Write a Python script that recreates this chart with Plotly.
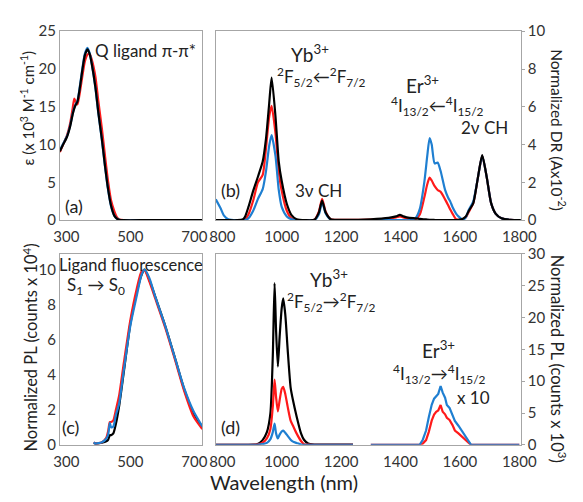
import plotly.graph_objects as go

W, H = 583, 502
FONT = "Lato"
BLACK, RED, BLUE = "#000000", "#ff1a1a", "#1f7fd1"

# ---------------- (a) absorption ----------------
wl_a = [280, 290, 302, 312, 320, 325, 330, 335, 342, 350, 358, 366, 373, 380,
        391, 400, 411, 421, 431, 440, 450, 458, 465, 480, 550, 650, 725]
abs_black = [9.1, 10.0, 11.0, 12.4, 14.0, 14.8, 15.3, 15.7, 17.4, 19.8, 21.8, 22.6,
             22.0, 20.6, 17.6, 14.3, 10.8, 7.2, 4.0, 1.9, 0.6, 0.2, 0.05, 0, 0, 0, 0]
abs_red = [9.0, 10.0, 11.2, 12.8, 14.8, 16.1, 15.6, 15.3, 16.8, 19.0, 21.0, 21.9,
           22.0, 21.2, 19.0, 15.8, 12.2, 8.5, 5.0, 2.6, 1.2, 0.4, 0.1, 0, 0, 0, 0]
abs_blue = [9.2, 10.1, 11.1, 12.5, 14.1, 14.9, 15.4, 15.8, 17.6, 20.0, 22.0, 22.8,
            22.1, 20.6, 17.5, 14.2, 10.7, 7.1, 3.9, 1.8, 0.6, 0.2, 0.05, 0, 0, 0, 0]

# ---------------- (b) diffuse reflectance ----------------
wl_b = [778, 795, 805, 820, 850, 870, 877, 888, 904, 920, 936, 947, 958, 966, 979,
        990, 1000, 1017, 1033, 1050, 1080, 1110, 1125, 1136, 1148, 1165, 1200, 1300,
        1360, 1385, 1398, 1410, 1430, 1450, 1465, 1480, 1490, 1498, 1505, 1515, 1525,
        1535, 1550, 1560, 1568, 1575, 1587, 1595, 1610, 1620, 1630, 1645, 1660, 1675,
        1690, 1705, 1720, 1740, 1770, 1805]
dr_black = [0, 0, 0, 0, 0, 0.05, 0.2, 0.7, 1.55, 2.3, 3.1, 4.3, 6.2, 7.55, 5.5,
            3.1, 2.07, 0.87, 0.27, 0.05, 0, 0.02, 0.4, 1.04, 0.4, 0.05, 0.02, 0.05,
            0.12, 0.2, 0.28, 0.2, 0.12, 0.1, 0.07, 0.05, 0.03, 0.02, 0.02, 0.01, 0,
            0, 0, 0, 0, 0, 0, 0.02, 0.08, 0.2, 0.5, 0.9, 2.2, 3.45, 2.3, 0.9, 0.35,
            0.1, 0.02, 0]
dr_red = [0, 0, 0, 0, 0, 0, 0.05, 0.3, 1.04, 2.0, 2.4, 3.8, 5.5, 6.05, 4.6,
          2.6, 1.55, 0.5, 0.1, 0.02, 0, 0.02, 0.45, 1.13, 0.45, 0.05, 0.02, 0.03,
          0.08, 0.15, 0.2, 0.15, 0.05, 0.05, 0.3, 1.2, 1.9, 2.25, 2.1, 1.8, 1.6,
          1.5, 1.1, 0.8, 0.55, 0.35, 0.05, 0.02, 0.05, 0.15, 0.45, 0.9, 2.2, 3.4,
          2.3, 0.9, 0.35, 0.1, 0.02, 0]
dr_blue = [1.1, 0.6, 0.25, 0.05, 0, 0, 0, 0.1, 0.5, 1.13, 1.64, 2.58, 3.95, 4.5,
           3.4, 1.6, 0.7, 0.2, 0.05, 0, 0, 0, 0.3, 0.95, 0.35, 0.03, 0, 0, 0, 0, 0,
           0, 0, 0.1, 0.6, 2.0, 3.4, 4.35, 4.0, 3.0, 3.05, 2.6, 1.6, 1.2, 0.97, 0.7,
           0.35, 0.2, 0.02, 0.15, 0.55, 1.0, 2.2, 3.4, 2.3, 0.9, 0.35, 0.1, 0.02, 0]

# ---------------- (c) ligand fluorescence ----------------
wl_c = [386, 391, 411, 425, 431, 436, 440, 447, 455, 465, 480, 500, 520, 535, 545,
        560, 579, 609, 639, 668, 698, 725]
pl_black = [0.1, 0.07, 0.12, 0.2, 0.3, 0.55, 0.55, 0.65, 1.2, 2.2, 4.2, 6.9, 8.7,
            9.7, 10.0, 9.4, 8.4, 6.8, 5.0, 3.2, 1.8, 1.0]
pl_red = [0.15, 0.08, 0.15, 0.4, 0.8, 1.3, 1.3, 1.4, 2.0, 2.8, 4.7, 7.1, 8.9, 9.9,
          9.95, 9.3, 8.3, 6.7, 4.9, 3.1, 1.6, 0.9]
pl_blue = [0.15, 0.07, 0.15, 0.35, 0.6, 1.25, 1.0, 1.05, 1.7, 2.35, 4.3, 6.8, 8.5,
           9.7, 10.0, 9.5, 8.4, 6.8, 5.0, 3.25, 1.9, 1.05]

# ---------------- (d) NIR emission ----------------
wl_d_yb = [778, 880, 917, 935, 950, 962, 970, 976, 981, 987, 993, 1000, 1005,
           1012, 1020, 1030, 1038, 1050, 1065, 1075, 1089, 1110, 1240]
nir_black = [0, 0, 0.1, 0.7, 2.0, 5.0, 14.0, 25.4, 18.0, 12.3, 17.0, 21.5, 23.0,
             20.5, 15.0, 9.0, 7.0, 4.5, 1.8, 0.8, 0.2, 0.05, 0.05]
nir_red = [0, 0, 0.05, 0.3, 1.0, 2.5, 6.0, 10.25, 7.5, 5.25, 7.0, 8.8, 9.1, 8.0,
           6.0, 3.8, 3.0, 1.8, 0.6, 0.1, 0.02, 0, 0]
nir_blue = [0, 0, 0, 0.1, 0.3, 0.9, 2.0, 3.35, 1.8, 1.0, 1.6, 2.1, 2.25, 1.9, 1.4,
            0.8, 0.5, 0.3, 0.05, 0, 0, 0, 0]

# Er emission (scaled x 10)
wl_d_er = [1300, 1440, 1465, 1475, 1486, 1495, 1505, 1513, 1520, 1527, 1535, 1542,
           1550, 1556, 1565, 1575, 1583, 1595, 1605, 1615, 1627, 1637, 1660, 1800]
er_red = [0, 0, 0, 0.2, 0.75, 2.0, 3.8, 4.75, 5.2, 5.4, 6.25, 5.2, 4.8, 4.25, 3.9,
          3.1, 2.25, 1.8, 1.4, 1.0, 0.4, 0, 0, 0]
er_blue = [0, 0, 0.05, 0.8, 2.25, 4.3, 6.3, 7.25, 7.6, 8.0, 9.25, 8.2, 7.4, 6.25,
           5.8, 4.7, 3.75, 3.0, 2.3, 1.8, 0.8, 0.05, 0, 0]


def px(x):
    return x / W


def py(y):
    return 1 - y / H


fig = go.Figure()

def add(xs, ys, color, xa, ya, shape="spline"):
    fig.add_trace(go.Scatter(x=xs, y=ys, mode="lines", xaxis=xa, yaxis=ya,
                             line=dict(color=color, width=2.2, shape=shape, smoothing=0.6),
                             showlegend=False, hoverinfo="skip"))

# (a)
add(wl_a, abs_red, RED, "x", "y")
add(wl_a, abs_blue, BLUE, "x", "y")
add(wl_a, abs_black, BLACK, "x", "y")
# (b)
add(wl_b, dr_red, RED, "x2", "y2")
add(wl_b, dr_blue, BLUE, "x2", "y2")
add(wl_b, dr_black, BLACK, "x2", "y2")
# (c)
add(wl_c, pl_black, BLACK, "x3", "y3")
add(wl_c, pl_red, RED, "x3", "y3")
add(wl_c, pl_blue, BLUE, "x3", "y3")
# (d)
add(wl_d_yb, nir_black, BLACK, "x4", "y4")
add(wl_d_yb, nir_red, RED, "x4", "y4")
add(wl_d_yb, nir_blue, BLUE, "x4", "y4")
add(wl_d_er, er_red, RED, "x4", "y4", shape="linear")
add(wl_d_er, er_blue, BLUE, "x4", "y4", shape="linear")

axis_line = dict(showline=True, mirror=True, linecolor="#a6a6a6", linewidth=1,
                 showgrid=False, zeroline=False,
                 tickfont=dict(family=FONT, size=15, color="#333333"))
x_top = dict(ticks="", ticklabelstandoff=3)
x_bot = dict(ticks="", ticklabelstandoff=3)

dom_left = [px(56), px(204)]
dom_right = [px(218), px(535)]
dom_top = [py(218), py(22)]
dom_bot = [py(451), py(253)]

fig.update_layout(
    width=W, height=H, margin=dict(l=0, r=0, t=0, b=0),
    paper_bgcolor="white", plot_bgcolor="white",
    font=dict(family=FONT, color="#222222"),
    xaxis=dict(domain=dom_left, anchor="y", range=[280, 725],
               tickvals=[300, 500, 700], **x_top, **axis_line),
    yaxis=dict(domain=dom_top, anchor="x", range=[0, 25],
               tickvals=[0, 5, 10, 15, 20, 25], ticks="", **axis_line),
    xaxis2=dict(domain=dom_right, anchor="y2", range=[778, 1805],
                tickvals=[800, 1000, 1200, 1400, 1600, 1800], **x_top, **axis_line),
    yaxis2=dict(domain=dom_top, anchor="x2", range=[0, 10], side="right",
                tickvals=[0, 2, 4, 6, 8, 10], ticks="outside", ticklen=3,
                tickcolor="#a6a6a6", **axis_line),
    xaxis3=dict(domain=dom_left, anchor="y3", range=[280, 725],
                tickvals=[300, 500, 700], **x_bot, **axis_line),
    yaxis3=dict(domain=dom_bot, anchor="x3", range=[0, 10.9],
                tickvals=[0, 2, 4, 6, 8, 10], ticks="", **axis_line),
    xaxis4=dict(domain=dom_right, anchor="y4", range=[778, 1805],
                tickvals=[800, 1000, 1200, 1400, 1600, 1800], **x_bot, **axis_line),
    yaxis4=dict(domain=dom_bot, anchor="x4", range=[0, 30], side="right",
                tickvals=[0, 5, 10, 15, 20, 25, 30], ticks="outside", ticklen=3,
                tickcolor="#a6a6a6", **axis_line),
)


def label(text, x, y, size=18, angle=0, xanchor="center"):
    fig.add_annotation(text=text, x=px(x), y=py(y), xref="paper", yref="paper",
                       showarrow=False, textangle=angle, xanchor=xanchor,
                       yanchor="middle", borderpad=0,
                       font=dict(family=FONT, size=size, color="#222222"))

# axis titles
label("ε (x 10<sup>3</sup> M<sup>-1</sup> cm<sup>-1</sup>)", 22, 102, 15, -90)
label("Normalized PL (counts x 10<sup>4</sup>)", 26, 350, 16.5, -90)
label("Normalized DR (Ax10<sup>-2</sup>)", 574, 125, 15.5, 90)
label("Normalized PL (counts x 10<sup>3</sup>)", 574, 362, 16.5, 90)
label("Wavelength (nm)", 289, 490, 20)

# panel (a)
label("Q ligand π-π*", 91, 42, 17, xanchor="left")
label("(a)", 60, 203, 18, xanchor="left")
# panel (b)
label("Yb<sup>3+</sup>", 316, 45, 19)
label("<sup>2</sup>F<sub>5/2</sub>←<sup>2</sup>F<sub>7/2</sub>", 328, 70, 17)
label("(b)", 222, 187, 18, xanchor="left")
label("3ν CH", 325, 187, 17)
label("Er<sup>3+</sup>", 433, 77, 19)
label("<sup>4</sup>I<sub>13/2</sub>←<sup>4</sup>I<sub>15/2</sub>", 448, 100, 17)
label("2ν CH", 497, 122, 17)
# panel (c)
label("Ligand fluorescence", 54, 265, 16.5, xanchor="left")
label("S<sub>1</sub> → S<sub>0</sub>", 62, 286, 17, xanchor="left")
label("(c)", 57, 433, 18, xanchor="left")
# panel (d)
label("Yb<sup>3+</sup>", 336, 278, 19)
label("<sup>2</sup>F<sub>5/2</sub>→<sup>2</sup>F<sub>7/2</sub>", 338, 303, 17)
label("(d)", 222, 433, 18, xanchor="left")
label("Er<sup>3+</sup>", 449, 352, 19)
label("<sup>4</sup>I<sub>13/2</sub>→<sup>4</sup>I<sub>15/2</sub>", 451, 378, 17)
label("x 10", 486, 402, 17)

fig.write_html("out.html")
